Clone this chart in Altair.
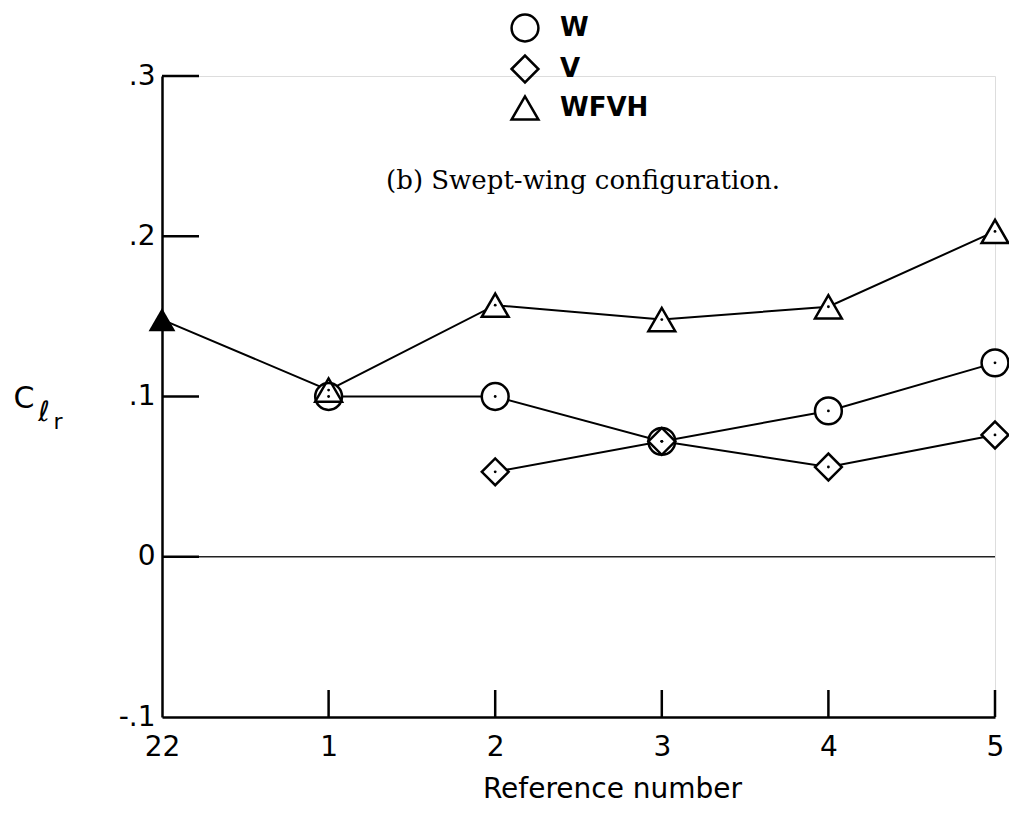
import altair as alt
import pandas as pd

# ---- data ----
refs = ["22", "1", "2", "3", "4", "5"]
series = ["W", "V", "WFVH"]
shapes = ["circle", "diamond", "triangle-up"]

w_refs = ["1", "2", "3", "4", "5"]
w_vals = [0.100, 0.100, 0.072, 0.091, 0.121]

v_refs = ["2", "3", "4", "5"]
v_vals = [0.053, 0.072, 0.056, 0.076]

wfvh_refs = ["22", "1", "2", "3", "4", "5"]
wfvh_vals = [0.148, 0.104, 0.157, 0.148, 0.156, 0.203]

filled_refs = ["22"]          # WFVH point drawn with a solid symbol

ytick_vals = [-0.1, 0.0, 0.1, 0.2, 0.3]
ytick_labels = ["-.1", "0", ".1", ".2", ".3"]
xtick_refs = ["1", "2", "3", "4", "5"]

subtitle = "(b) Swept-wing configuration."

# ---- tables ----
rows = []
for name, rr, vv in [("W", w_refs, w_vals), ("V", v_refs, v_vals), ("WFVH", wfvh_refs, wfvh_vals)]:
    for r, v in zip(rr, vv):
        rows.append({"series": name, "ref": r, "idx": refs.index(r), "value": v,
                     "filled": (name == "WFVH" and r in filled_refs)})
df = pd.DataFrame(rows)
df_open = df[~df["filled"]]
df_solid = df[df["filled"]]
df_xt = pd.DataFrame({"ref": xtick_refs})
df_yt = pd.DataFrame({"value": [v for v in ytick_vals if v != -0.1]})
df_zero = pd.DataFrame({"value": [0.0]})
df_sub = pd.DataFrame({"t": [subtitle]})
df_c = pd.DataFrame({"t": ["C"]})
df_l = pd.DataFrame({"t": ["\u2113"]})
df_r = pd.DataFrame({"t": ["r"]})

W, H = 833, 641
FONT = "DejaVu Sans"
MSIZE = 720

label_expr = "[" + ",".join("'%s'" % s for s in ytick_labels) + "][indexof([" + \
    ",".join(repr(v) for v in ytick_vals) + "], datum.value)]"

xscale = alt.Scale(domain=refs, type="point", padding=0)
yscale = alt.Scale(domain=[-0.1, 0.3], nice=False, zero=False)

x_enc = alt.X("ref:O", scale=xscale, sort=refs,
              axis=alt.Axis(title="Reference number", labelAngle=0, ticks=False,
                            domainColor="black", domainWidth=2.5, grid=False,
                            labelFontSize=28, labelPadding=16, labelFont=FONT,
                            labelColor="black", titleFontSize=28, titleFont=FONT,
                            titleFontWeight="normal", titlePadding=14, titleColor="black",
                            titleX=450, titleAnchor="start", titleAlign="center"))
y_enc = alt.Y("value:Q", scale=yscale,
              axis=alt.Axis(title=None, values=ytick_vals, labelExpr=label_expr, ticks=False,
                            domainColor="black", domainWidth=2.5, grid=False,
                            labelFontSize=28, labelPadding=7, labelFont=FONT, labelColor="black"))

lines = alt.Chart(df).mark_line(color="black", strokeWidth=2).encode(
    x=x_enc, y=y_enc, detail="series:N", order="idx:Q")

zero = alt.Chart(df_zero).mark_rule(color="#222222", strokeWidth=1.5).encode(
    y=y_enc, x=alt.value(0), x2=alt.value(W))

yticks = alt.Chart(df_yt).mark_rule(color="black", strokeWidth=2.5).encode(
    y=y_enc, x=alt.value(0), x2=alt.value(37))

xticks = alt.Chart(df_xt).mark_rule(color="black", strokeWidth=2.5).encode(
    x=x_enc, y=alt.value(H), y2=alt.value(H - 27))

whites = alt.Chart(df_open).mark_point(filled=True, color="white", size=MSIZE, opacity=1).encode(
    x=x_enc, y=y_enc,
    shape=alt.Shape("series:N", scale=alt.Scale(domain=series, range=shapes), legend=None))

points = alt.Chart(df_open).mark_point(filled=False, color="black", strokeWidth=2.5,
                                       size=MSIZE, opacity=1).encode(
    x=x_enc, y=y_enc,
    shape=alt.Shape("series:N", scale=alt.Scale(domain=series, range=shapes),
                    legend=alt.Legend(title=None, orient="none", legendX=348, legendY=-63,
                                      labelFontSize=26, labelFont=FONT, labelFontWeight="bold",
                                      labelColor="black", symbolSize=MSIZE, symbolStrokeWidth=2.5,
                                      symbolStrokeColor="black", symbolFillColor="transparent",
                                      labelOffset=20, rowPadding=3, padding=0)))

solid = alt.Chart(df_solid).mark_point(filled=True, shape="triangle-up", color="black",
                                       size=MSIZE, opacity=1).encode(x=x_enc, y=y_enc)

dots = alt.Chart(df_open).mark_point(filled=True, shape="circle", color="black",
                                     size=8, opacity=1).encode(x=x_enc, y=y_enc)

sub = alt.Chart(df_sub).mark_text(font="DejaVu Serif", fontSize=26, color="black",
                                  align="center", baseline="alphabetic").encode(
    x=alt.value(421), y=alt.value(113), text="t:N")

cC = alt.Chart(df_c).mark_text(font=FONT, fontSize=30, color="black", align="center",
                               baseline="alphabetic").encode(
    x=alt.value(-138), y=alt.value(332), text="t:N")
cL = alt.Chart(df_l).mark_text(font=FONT, fontSize=28, color="black", align="center",
                               baseline="alphabetic").encode(
    x=alt.value(-118), y=alt.value(345), text="t:N")
cR = alt.Chart(df_r).mark_text(font=FONT, fontSize=22, color="black", align="center",
                               baseline="alphabetic").encode(
    x=alt.value(-104), y=alt.value(353), text="t:N")

chart = alt.layer(zero, yticks, xticks, lines, whites, points, solid, dots, sub, cC, cL, cR).resolve_scale(
    shape="independent"
).resolve_legend(shape="independent").properties(
    width=W, height=H,
    autosize=alt.AutoSizeParams(type="none"),
    padding={"left": 154, "top": 68, "right": 14, "bottom": 90},
).configure_view(stroke=None).configure(background="white")

chart.save("out.html", embed_options={"renderer": "svg", "actions": False})
